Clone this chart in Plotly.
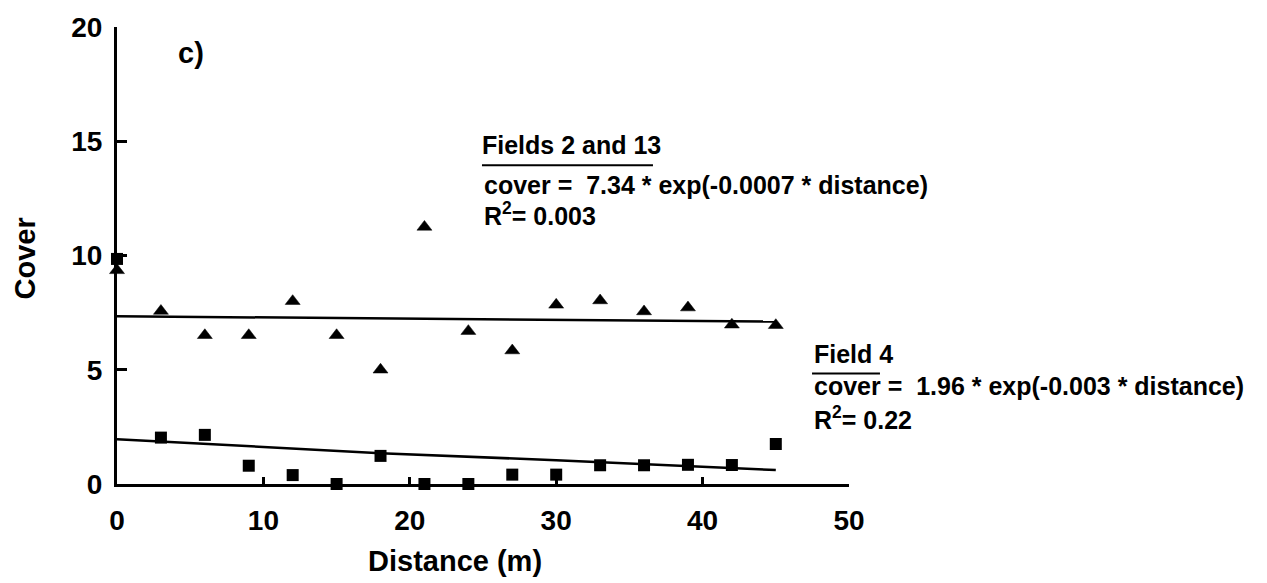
import plotly.graph_objects as go

# Sampling distances along the transect (m)
distance = [0, 3, 6, 9, 12, 15, 18, 21, 24, 27, 30, 33, 36, 39, 42, 45]

# Percent cover, Fields 2 and 13 (triangles)
cover_fields_2_13 = [9.35, 7.57, 6.51, 6.51, 8.0, 6.51, 5.0, 11.25,
                     6.69, 5.84, 7.84, 8.03, 7.55, 7.72, 6.97, 6.95]

# Percent cover, Field 4 (squares)
cover_field_4 = [9.85, 2.03, 2.15, 0.80, 0.39, 0.0, 1.23, 0.0,
                 0.0, 0.41, 0.41, 0.82, 0.82, 0.84, 0.83, 1.75]

# Fitted exponential curves, sampled along the transect
fit_dist_2_13 = [0, 15, 30, 45]
fit_cover_2_13 = [7.34, 7.27, 7.19, 7.11]
fit_dist_4 = [0, 9, 18, 30, 45]
fit_cover_4 = [1.96, 1.66, 1.35, 1.04, 0.61]

x_ticks = [0, 10, 20, 30, 40, 50]
y_ticks = [0, 5, 10, 15, 20]

FONT = "Liberation Sans, Arial, Helvetica, sans-serif"
BLACK = "black"

fig = go.Figure()

fig.add_trace(go.Scatter(
    x=fit_dist_2_13, y=fit_cover_2_13, mode="lines",
    line=dict(color=BLACK, width=2.5), hoverinfo="skip", cliponaxis=False))
fig.add_trace(go.Scatter(
    x=fit_dist_4, y=fit_cover_4, mode="lines",
    line=dict(color=BLACK, width=2.5), hoverinfo="skip", cliponaxis=False))

fig.add_trace(go.Scatter(
    x=distance, y=cover_fields_2_13, mode="markers", name="Fields 2 and 13",
    marker=dict(symbol="triangle-up", size=13, color=BLACK, line=dict(width=0.5, color=BLACK)),
    cliponaxis=False))
fig.add_trace(go.Scatter(
    x=distance, y=cover_field_4, mode="markers", name="Field 4",
    marker=dict(symbol="square", size=12, color=BLACK, line=dict(width=0)),
    cliponaxis=False))

ann_font = dict(family=FONT, size=25, color=BLACK)
txt = [
    ("<b>Fields 2 and 13</b>", 24.78, 14.83),
    ("<b>cover =  7.34 * exp(-0.0007 * distance)</b>", 24.91, 13.10),
    ("<b>R<sup>2</sup>= 0.003</b>", 24.91, 11.80),
    ("<b>Field 4</b>", 47.44, 5.71),
    ("<b>cover =  1.96 * exp(-0.003 * distance)</b>", 47.44, 4.28),
    ("<b>R<sup>2</sup>= 0.22</b>", 47.44, 2.90),
]
for t, x, y in txt:
    fig.add_annotation(text=t, x=x, y=y, xref="x", yref="y",
                       xanchor="left", yanchor="middle", showarrow=False,
                       font=ann_font)

# Panel letter
fig.add_annotation(text="<b>c)</b>", x=5.05, y=18.85, xref="x", yref="y",
                   showarrow=False, font=dict(family=FONT, size=29, color=BLACK))

# Axis titles (paper coordinates, outside the plotting area)
fig.add_annotation(text="<b>Distance (m)</b>", x=0.4617, y=-0.1685,
                   xref="paper", yref="paper", showarrow=False,
                   xanchor="center", yanchor="middle",
                   font=dict(family=FONT, size=29, color=BLACK))
fig.add_annotation(text="<b>Cover</b>", x=-0.1264, y=0.4946,
                   xref="paper", yref="paper", textangle=-90, showarrow=False,
                   xanchor="center", yanchor="middle",
                   font=dict(family=FONT, size=29, color=BLACK))

# Rules under the group headings
fig.add_shape(type="line", x0=0.4986, x1=0.7322, y0=0.6976, y1=0.6976,
              xref="paper", yref="paper", line=dict(color=BLACK, width=2))
fig.add_shape(type="line", x0=0.9495, x1=1.0423, y0=0.2419, y1=0.2419,
              xref="paper", yref="paper", line=dict(color=BLACK, width=2))

fig.update_layout(
    width=1267, height=583,
    margin=dict(l=117, r=418, t=21, b=99),
    paper_bgcolor="white", plot_bgcolor="white",
    showlegend=False,
    font=dict(family=FONT, color=BLACK),
)
fig.update_xaxes(
    range=[0, 50], tickvals=x_ticks, ticktext=[f"<b>{v}</b>" for v in x_ticks],
    showline=True, linecolor=BLACK, linewidth=3, showgrid=False, zeroline=False,
    ticks="inside", ticklen=7, tickwidth=2.5, tickcolor=BLACK,
    tickfont=dict(family=FONT, size=28, color=BLACK), ticklabelstandoff=9,
)
fig.update_yaxes(
    range=[0, 20], tickvals=y_ticks, ticktext=[f"<b>{v}</b>" for v in y_ticks],
    showline=True, linecolor=BLACK, linewidth=3, showgrid=False, zeroline=False,
    ticks="inside", ticklen=10, tickwidth=2.5, tickcolor=BLACK,
    tickfont=dict(family=FONT, size=28, color=BLACK), ticklabelstandoff=6,
)

fig.write_html("out.html")
